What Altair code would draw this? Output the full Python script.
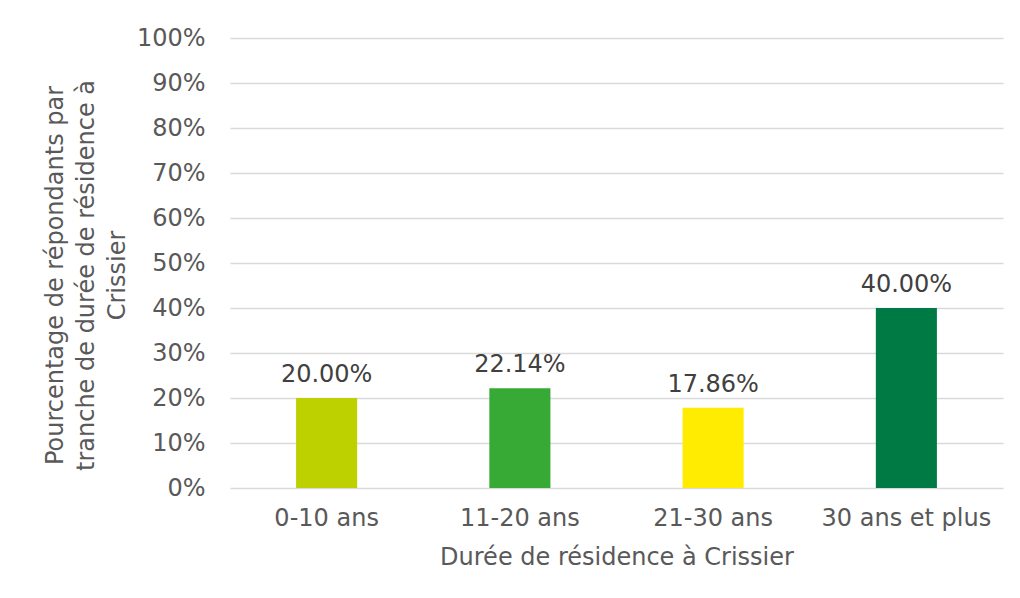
import altair as alt
import pandas as pd

categories = ["0-10 ans", "11-20 ans", "21-30 ans", "30 ans et plus"]
values = [0.2000, 0.2214, 0.1786, 0.4000]
colors = ["#BDD000", "#37A935", "#FFEC00", "#007A45"]
labels = ["20.00%", "22.14%", "17.86%", "40.00%"]
y_ticks = [i / 10 for i in range(11)]

df = pd.DataFrame({"cat": categories, "val": values, "lab": labels, "col": colors})

FONT = "DejaVu Sans"
FS = 24

x = alt.X(
    "cat:N",
    sort=categories,
    scale=alt.Scale(paddingInner=0.684, paddingOuter=0.342),
    axis=alt.Axis(
        title="Durée de résidence à Crissier",
        labelAngle=0,
        labelFontSize=FS,
        labelColor="#595959",
        labelFont=FONT,
        labelPadding=18,
        tickSize=0,
        ticks=False,
        domain=False,
        titleFontSize=FS,
        titleFont=FONT,
        titleColor="#595959",
        titleFontWeight="normal",
        titleBaseline="top",
        titleY=57,
    ),
)

y = alt.Y(
    "val:Q",
    scale=alt.Scale(domain=[0, 1], nice=False),
    axis=alt.Axis(
        title=["Pourcentage de répondants par", "tranche de durée de résidence à", "Crissier"],
        values=y_ticks,
        format=".0%",
        labelFontSize=FS,
        labelColor="#595959",
        labelFont=FONT,
        labelPadding=25,
        tickSize=0,
        ticks=False,
        domain=False,
        gridColor="#D9D9D9",
        gridWidth=1.5,
        titleFontSize=FS,
        titleFont=FONT,
        titleColor="#595959",
        titleFontWeight="normal",
        titleAngle=-90,
        titleAlign="center",
        titleBaseline="top",
        titleLineHeight=31,
        titleX=-187,
        titleY=237,
    ),
)

bars = alt.Chart(df).mark_bar().encode(
    x=x,
    y=y,
    color=alt.Color("col:N", scale=None),
)

text = alt.Chart(df).mark_text(
    fontSize=FS, font=FONT, color="#404040", baseline="alphabetic", dy=-16
).encode(
    x=alt.X("cat:N", sort=categories),
    y=alt.Y("val:Q"),
    text="lab:N",
)

chart = (
    alt.layer(bars, text)
    .properties(
        width=773,
        height=450,
        background="white",
        autosize=alt.AutoSizeParams(type="none"),
        padding={"left": 222, "top": 30, "right": 9, "bottom": 100},
    )
    .configure_view(stroke=None, strokeWidth=0)
)

chart.save("out.html", embed_options={"renderer": "svg", "actions": False})
